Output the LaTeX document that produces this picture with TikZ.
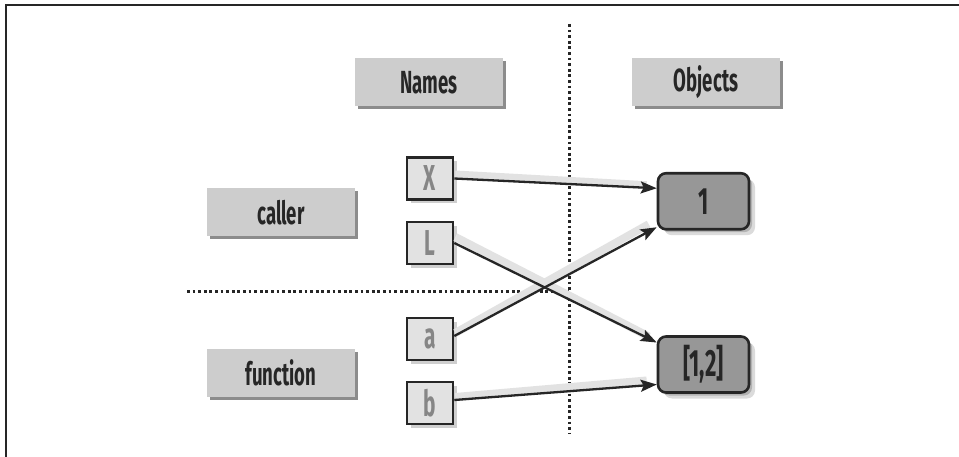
\documentclass[tikz,border=0pt]{standalone}
\usepackage{fontspec}
\newfontfamily\cnd[FakeStretch=0.58]{Fira Sans}
\usetikzlibrary{shadows,arrows.meta,calc}
\definecolor{hdrgray}{HTML}{CDCDCD}
\definecolor{hdrshadow}{HTML}{8C8C8C}
\definecolor{boxgray}{HTML}{E2E2E2}
\definecolor{boxshadow}{HTML}{CFCFCF}
\definecolor{objgray}{HTML}{979797}
\definecolor{textdark}{HTML}{262626}
\definecolor{lettergray}{HTML}{868686}
\definecolor{arrshadow}{HTML}{E2E2E2}
\begin{document}
\begin{tikzpicture}[x=1pt,y=-1pt,
  hdr/.style={fill=hdrgray, minimum width=148pt, minimum height=48pt, inner sep=0pt,
    font=\cnd\bfseries\fontsize{32}{32}\selectfont, text=textdark,
    drop shadow={shadow xshift=3pt, shadow yshift=-3pt, fill=hdrshadow, opacity=1}},
  namebox/.style={fill=boxgray, draw=textdark, line width=2.6pt, minimum width=46pt, minimum height=42pt,
    inner sep=0pt, font=\cnd\bfseries\fontsize{36}{36}\selectfont, text=lettergray,
    drop shadow={shadow xshift=4pt, shadow yshift=-4pt, fill=boxshadow, opacity=1}},
  objbox/.style={fill=objgray, draw=textdark, line width=2.6pt, rounded corners=8pt,
    minimum width=91pt, minimum height=56pt, inner sep=0pt,
    font=\cnd\bfseries\fontsize{38}{38}\selectfont, text=textdark,
    drop shadow={shadow xshift=3pt, shadow yshift=-3pt, fill=black, opacity=0.18},
    drop shadow={shadow xshift=6pt, shadow yshift=-6pt, fill=black, opacity=0.14}},
  sepline/.style={line width=3pt, black!85, dash pattern=on 2.8pt off 2.8pt},
  arr/.style={line width=2.3pt, textdark, -{Stealth[length=16pt,width=12pt,inset=3pt]}},
  ashadow/.style={line width=8pt, arrshadow, line cap=butt}
]
\useasboundingbox (0,0) rectangle (959,457);
\fill[white] (0,0) rectangle (959,457);
% frame
\draw[line width=2pt, black!85] (959,5) -- (6,5) -- (6,457);

% separators
\coordinate (vt) at (569,24);
\coordinate (vb) at (569,433);
\coordinate (hl) at (187,292);
\coordinate (hr) at (569,292);
\draw[sepline] (vt) -- (vb);
\draw[sepline] (hl) -- (hr);

% headers
\node[hdr] (names) at (429,82.5) {Names};
\node[hdr] (objects) at (706,82.5) {Objects};
\node[hdr] (caller) at (281,212.5) {caller};
\node[hdr] (function) at (281,372.5) {function};

% name boxes
\node[namebox] (X) at (430,178.5) {X};
\node[namebox] (L) at (430,243) {L};
\node[namebox] (a) at (430,339) {a};
\node[namebox] (b) at (430,403) {b};

% object boxes
\node[objbox] (o1) at (703.5,201.25) {1};
\node[objbox] (o2) at (703.5,364.5) {[1,2]};

% arrow shadows
\draw[ashadow] ([shift={(1pt,4pt)}]X.east) -- ([shift={(-10pt,16pt)}]o1.west);
\draw[ashadow] ([shift={(1pt,6pt)}]L.east) -- ([shift={(-8pt,28pt)}]o2.west);
\draw[ashadow] ([shift={(1pt,6pt)}]a.east) -- ([shift={(-8pt,-23pt)}]o1.west);
\draw[ashadow] ([shift={(1pt,6pt)}]b.east) -- ([shift={(-10pt,-16pt)}]o2.west);

% arrows
\draw[arr] (X.east) -- ([yshift=13pt]o1.west);
\draw[arr] (L.east) -- ([yshift=22pt]o2.west);
\draw[arr] ([yshift=3pt]a.east) -- ([yshift=-26pt]o1.west);
\draw[arr] ([yshift=3pt]b.east) -- ([yshift=-20pt]o2.west);
\end{tikzpicture}
\end{document}
